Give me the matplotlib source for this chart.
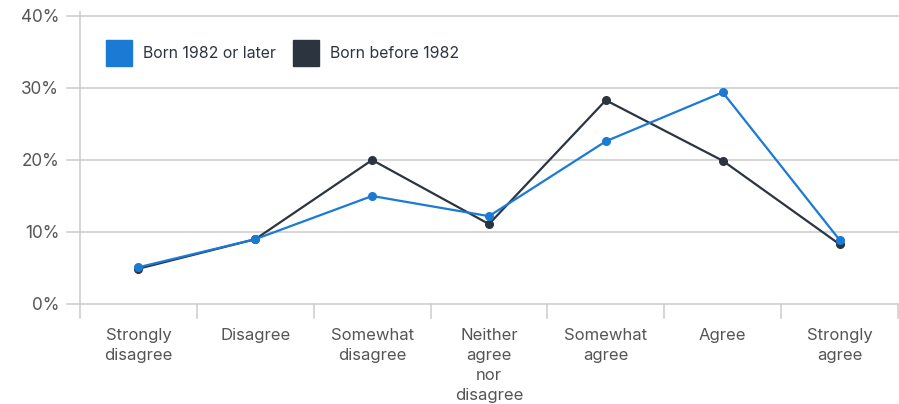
import matplotlib
matplotlib.use("Agg")
import matplotlib.pyplot as plt
from matplotlib.patches import Rectangle
from matplotlib.lines import Line2D

categories = ["Strongly\ndisagree", "Disagree", "Somewhat\ndisagree",
              "Neither\nagree\nnor\ndisagree", "Somewhat\nagree", "Agree",
              "Strongly\nagree"]
born_1982_or_later = [5.1, 9.0, 15.0, 12.2, 22.6, 29.4, 8.9]
born_before_1982 = [4.9, 9.0, 20.0, 11.1, 28.3, 19.9, 8.3]
series_names = ["Born 1982 or later", "Born before 1982"]
y_ticks = [0, 10, 20, 30, 40]

BLUE = "#1a7ad4"
DARK = "#2c353f"
GRID = "#cccccc"
TEXT = "#555555"

plt.rcParams["font.family"] = ["Inter", "DejaVu Sans"]

W, H = 899, 404
fig = plt.figure(figsize=(W / 100, H / 100), dpi=100)
left, right, top, bottom = 80, 898, 16, 304
ax = fig.add_axes([left / W, (H - bottom) / H, (right - left) / W, (bottom - top) / H])

n = len(categories)
x = list(range(n))
ax.set_xlim(-0.5, n - 0.5)
ax.set_ylim(0, 40)

for s in ax.spines.values():
    s.set_visible(False)

# horizontal grid lines, extending a little left of the axis
for v in y_ticks:
    ax.add_line(Line2D([-0.5 - 13 / 117, n - 0.5], [v, v], color=GRID, lw=1.1,
                       clip_on=False, zorder=0))
# left axis line reaching slightly above the top and below the bottom
ax.add_line(Line2D([-0.5, -0.5], [-14 / 7.2, 40 + 4 / 7.2], color=GRID, lw=1.1,
                   clip_on=False, zorder=0))
# band separators below the baseline
for b in range(1, n + 1):
    ax.add_line(Line2D([b - 0.5, b - 0.5], [0, -14 / 7.2], color=GRID, lw=1.1,
                       clip_on=False, zorder=0))

ax.plot(x, born_before_1982, color=DARK, lw=1.6, marker="o", ms=5.5, zorder=3)
ax.plot(x, born_1982_or_later, color=BLUE, lw=1.6, marker="o", ms=5.5, zorder=4)

ax.set_yticks(y_ticks)
ax.set_yticklabels([f"{v}%" for v in y_ticks], color=TEXT, fontsize=12.3)
ax.tick_params(axis="y", length=0, pad=15)
ax.set_xticks(x)
ax.set_xticklabels(categories, color=TEXT, fontsize=12, linespacing=1.42)
ax.tick_params(axis="x", length=0, pad=17)

# legend
legend_items = [(series_names[0], BLUE, 106), (series_names[1], DARK, 293)]
for name, col, px in legend_items:
    fig.add_artist(Rectangle((px / W, (H - 66) / H), 26 / W, 26 / H,
                             transform=fig.transFigure, color=col))
    fig.text((px + 37) / W, (H - 53) / H, name, color="#2c353f", fontsize=11.4,
             va="center", ha="left")

fig.savefig("out.png", dpi=100, facecolor="white")
